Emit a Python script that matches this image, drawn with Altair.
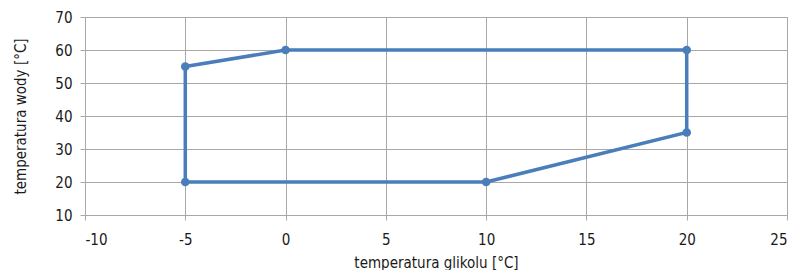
import altair as alt
import pandas as pd

# polygon vertices (closed): glycol temperature vs water temperature
glycol = [-5, 0, 20, 20, 10, -5, -5]
water = [55, 60, 60, 35, 20, 20, 55]
order = list(range(len(glycol)))
is_vertex = [True, True, True, True, True, True, False]

x_ticks = [-10, -5, 0, 5, 10, 15, 20, 25]
y_ticks = [10, 20, 30, 40, 50, 60, 70]

df = pd.DataFrame({"x": glycol, "y": water, "o": order, "v": is_vertex})

FONT = "Liberation Sans Narrow, DejaVu Sans Condensed, Liberation Sans, sans-serif"
GRID = "#a8a8a8"
BLUE = "#4a7ebb"

xs = alt.Scale(domain=[-10, 25], nice=False, zero=False)
ys = alt.Scale(domain=[10, 70], nice=False, zero=False)

x_enc = alt.X("x:Q", scale=xs, axis=alt.Axis(
    values=x_ticks, title="temperatura glikolu [°C]", grid=True,
    labelExpr="toString(datum.value)",
    tickSize=5, labelPadding=12, titlePadding=8))
y_enc = alt.Y("y:Q", scale=ys, axis=alt.Axis(
    values=y_ticks, title="temperatura wody [°C]", grid=True,
    labelExpr="toString(datum.value)",
    tickSize=5, labelPadding=8, titlePadding=26))

base = alt.Chart(df).encode(x=x_enc, y=y_enc)
line = base.mark_line(color=BLUE, strokeWidth=3.5).encode(order="o:O")
pts = base.transform_filter("datum.v").mark_point(
    filled=True, size=75, opacity=1, color=BLUE)

chart = (line + pts).properties(
    width=702, height=198, autosize="none",
    padding={"left": 77, "top": 9, "right": 8, "bottom": 55},
).configure_view(stroke=GRID, strokeWidth=1).configure_axis(
    gridColor=GRID, domainColor=GRID, tickColor=GRID, gridWidth=1,
    labelFont=FONT, titleFont=FONT, labelFontSize=15, titleFontSize=15,
    labelColor="#1a1a1a", titleColor="#1a1a1a", titleFontWeight="normal",
)

chart.save("out.html", embed_options={"renderer": "svg", "actions": False})
